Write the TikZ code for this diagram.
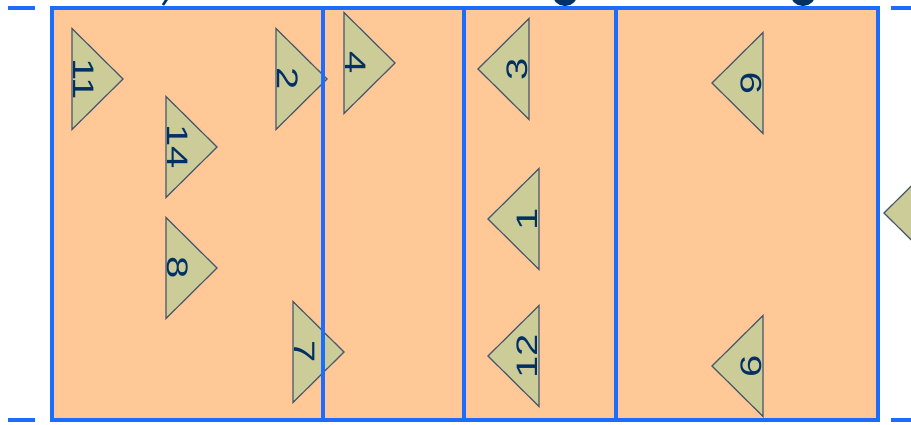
\documentclass[tikz,border=0pt]{standalone}
\usepackage{fontspec}
\setmainfont{Liberation Sans}
\definecolor{courtfill}{RGB}{255,200,150}
\definecolor{courtline}{RGB}{28,108,255}
\definecolor{trifill}{RGB}{204,204,153}
\definecolor{triline}{RGB}{72,88,108}
\definecolor{numcol}{RGB}{0,48,100}
\tikzset{
  courtlines/.style={draw=courtline, line width=3.4pt},
  tri/.style={fill=trifill, draw=triline, line width=1.2pt, line join=miter},
  numtext/.style={text=numcol, inner sep=0pt, font=\fontsize{40}{40}\selectfont, xscale=0.74},
  numL/.style={numtext, rotate=-90, anchor=south},
  numR/.style={numtext, rotate=90, anchor=south},
  frag/.style={fill=numcol}
}
% left-team player: base x, centre y, pointing right
\newcommand\playerL[4]{%
  \draw[tri] (#2,#3-50.5) -- (#2+51,#3) -- (#2,#3+50.5) -- cycle;
  \node[numL] (#1) at (#2+1.5,#3) {#4};}
% right-team player: base x, centre y, pointing left
\newcommand\playerR[4]{%
  \draw[tri] (#2,#3-50.5) -- (#2-51,#3) -- (#2,#3+50.5) -- cycle;
  \node[numR] (#1) at (#2-1.5,#3) {#4};}
\begin{document}
\begin{tikzpicture}[x=1pt,y=-1pt]
\useasboundingbox (0,0) rectangle (911,424);
\clip (0,0) rectangle (911,424);
\fill[white] (0,0) rectangle (911,424);
% court
\fill[courtfill] (52,8) rectangle (878,420);
% players, left side
\playerL{p11}{72}{79}{11}
\playerL{p2}{276}{79}{2}
\playerL{p14}{166}{147}{14}
\playerL{p8}{166}{268}{8}
\playerL{p7}{293}{352}{7}
\playerL{p4}{344}{63}{4}
% players, right side
\playerR{p3}{529}{69}{3}
\playerR{p1}{539}{219}{1}
\playerR{p12}{539}{356}{12}
\playerR{p9}{763}{83}{9}
\playerR{p6}{763}{366}{6}
\playerR{p5}{935}{213}{5}
% court lines
\draw[courtlines] (52,8) rectangle (878,420);
\draw[courtlines] (323,8) -- (323,420);
\draw[courtlines] (464,8) -- (464,420);
\draw[courtlines] (616,8) -- (616,420);
\draw[courtlines] (8,8) -- (35,8);
\draw[courtlines] (8,420) -- (35,420);
\draw[courtlines] (891,8) -- (911,8);
\draw[courtlines] (891,420) -- (911,420);
% fragments of objects above the picture
\fill[frag] (565,-7) circle (13);
\fill[frag] (803,-7) circle (13);
\draw[numcol, line width=2.6pt] (167,-1) -- (163,5);
\end{tikzpicture}
\end{document}
